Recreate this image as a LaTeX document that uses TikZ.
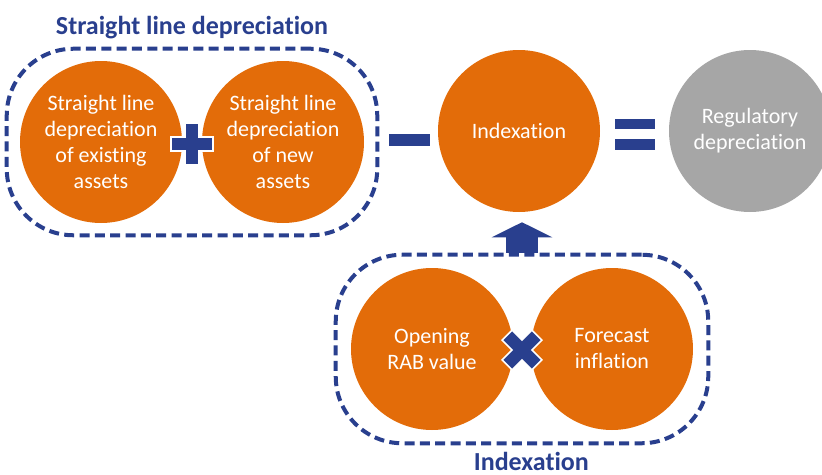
\documentclass[tikz,border=0pt]{standalone}
\usepackage{fontspec}
\setmainfont{Carlito}[Ligatures=NoCommon]
\usetikzlibrary{positioning,fit,arrows.meta}
\definecolor{regorange}{HTML}{E36C09}
\definecolor{regblue}{HTML}{293F8E}
\definecolor{reggray}{HTML}{A6A6A6}
\tikzset{
  bubble/.style={circle, fill=regorange, text=white, minimum size=121.5pt, inner sep=0pt, align=center, font=\fontsize{16.5}{19.5}\selectfont},
  groupframe/.style={draw=regblue, line width=3pt, dash pattern=on 7.5pt off 4pt, rounded corners=50pt},
  heading/.style={text=regblue, font=\fontsize{19.5}{22}\selectfont\bfseries},
  sign/.style={fill=regblue, draw=white, line width=1.2pt},
  bar/.style={fill=regblue},
  uparrow/.style={regblue, line width=24pt, -{Triangle[width=45pt,length=11.25pt]}, shorten >=7.5pt},
  plussign/.pic={\draw[sign] (-7,-21) -- (7,-21) -- (7,-7) -- (21,-7) -- (21,7) -- (7,7) -- (7,21) -- (-7,21) -- (-7,7) -- (-21,7) -- (-21,-7) -- (-7,-7) -- cycle;}
}
\begin{document}
\begin{tikzpicture}[x=0.75pt, y=-0.75pt]
	\useasboundingbox (0,0) rectangle (822,475);
	% Fila superior
		\node[bubble] (existing) at (101,142) {Straight line\\depreciation\\of existing\\assets};
		\node[bubble] (new) at (283,142) {Straight line\\depreciation\\of new\\assets};
		\node[bubble] (index) at (519,131) {Indexation};
		\node[bubble, fill=reggray] (reg) at (750,131) {Regulatory\\depreciation};

	% Fila inferior
		\node[bubble] (rab) at (432,349) {Opening\\RAB value};
		\node[bubble] (infl) at (612,349) {Forecast\\inflation};

	% Marcos
		\node[groupframe, fit=(existing)(new), inner xsep=9.75pt, inner ysep=9pt] (sldframe) {};
		\node[heading, above=2.5pt of sldframe] (sldtitle) {Straight line depreciation};
		\node[groupframe, fit=(rab)(infl), inner xsep=11.25pt, inner ysep=9.75pt] (idxframe) {};
		\node[heading, below=1.5pt of idxframe, xshift=7pt] (idxtitle) {Indexation};

	% Signos
		\pic at (192,144) {plussign};
		\pic[rotate=45] at (522,350) {plussign};
		\fill[bar] (389,134) rectangle (430,146);
		\fill[bar] (615,119) rectangle (655,129);
		\fill[bar] (615,139) rectangle (655,150);

	% Flecha
		\draw[uparrow] (idxframe.north) -- (idxframe.north |- index.south);
\end{tikzpicture}
\end{document}
